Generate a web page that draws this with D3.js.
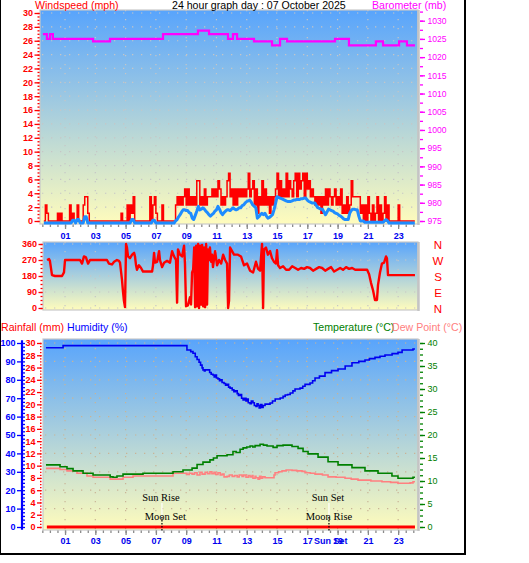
<!DOCTYPE html>
<html><head><meta charset="utf-8">
<script src="https://cdn.jsdelivr.net/npm/d3@7"></script>
<style>
html,body{margin:0;padding:0;background:#fff;}
svg{display:block;}
</style></head><body>
<svg id="chart" width="529" height="563"></svg>
<script>
// ---------------- DATA ----------------
const hourTicks = [1,3,5,7,9,11,13,15,17,19,21,23];
const hourLabels = ["01","03","05","07","09","11","13","15","17","19","21","23"];
const windTicks = [0,2,4,6,8,10,12,14,16,18,20,22,24,26,28,30];
const baroTicks = [975,980,985,990,995,1000,1005,1010,1015,1020,1025,1030];
const dirTicks = [0,90,180,270,360];
const dirLetters = ["N","E","S","W","N"];
const humTicks = [0,10,20,30,40,50,60,70,80,90,100];
const rainTicks = [0,2,4,6,8,10,12,14,16,18,20,22,24,26,28,30];
const tempTicks = [0,5,10,15,20,25,30,35,40];

// wind samples: first sample hour and sampling step (hours)
const windStartHour = -0.4;
const windStepHour = 0.1;
const windGust = [
0,2.3,1.1,0,0,0,0,0,0,1.1,
0,1.1,0,0,0,0,0,2.3,0,1.1,
0,0,2.3,0,0,0,2.3,3.5,3.5,1.1,
0,0,0,0,0,0,0,0,0,0,
0,0,0,0,0,0,0,0,0,0,
0,1.1,0,0,0,2.3,0,2.3,1.1,3.5,
0,0,0,0,0,0,0,0,0,0,
3.5,0,2.3,3.5,1.1,0,0,0,2.3,0,
0,0,0,0,0,0,0,2.3,3.5,2.3,
3.5,2.3,3.5,4.6,2.3,4.6,2.3,3.5,2.3,3.5,
2.3,5.8,5.8,2.3,3.5,2.3,4.6,2.3,3.5,3.5,
3.5,4.6,3.5,4.6,3.5,5.8,4.6,2.3,3.5,2.3,
3.5,5.8,6.9,3.5,4.6,2.3,4.6,2.3,4.6,3.5,
4.6,3.5,4.6,3.5,4.6,6.9,3.5,4.6,5.8,2.3,
4.6,1.1,3.5,2.3,5.8,2.3,4.6,2.3,3.5,1.1,
3.5,2.3,3.5,4.6,6.9,3.5,5.8,3.5,4.6,3.5,
6.9,3.5,5.8,4.6,3.5,5.8,6.9,3.5,6.9,4.6,
5.8,6.9,3.5,6.9,4.6,5.8,3.5,4.6,3.5,2.3,
3.5,2.3,3.5,1.1,3.5,2.3,4.6,2.3,4.6,3.5,
2.3,3.5,4.6,2.3,3.5,2.3,4.6,1.1,2.3,1.1,
3.5,1.1,2.3,5.8,3.5,3.5,3.5,3.5,3.5,1.1,
2.3,0,2.3,0,3.5,1.1,0,2.3,0,1.1,
3.5,0,2.3,0,1.1,3.5,0,2.3,0,0,
0,0,0,0,2.3,0,0,0,0,0,
0,0,0,0,0,0];
const windAvg = [
0,0,0,0,0,0,0,0,0,0,
0,0,0,0,0,0,0,0,0,0.4,
0.4,0,0.5,0.5,0,0,0,0.9,0.9,0,
0,0,0,0,0,0,0,0,0,0,
0,0,0,0,0,0,0,0,0,0,
0,0,0,0,0,0,0,0,0.5,0.5,
0,0,0,0,0,0,0,0,0,0,
0,0,0.4,0.4,0,0,0,0,0,0,
0,0,0,0,0,0,0,0.3,0.5,0.9,
1.2,1.6,1.9,1.9,1.8,1.8,1.5,1.4,0.7,0.5,
1.1,1.7,2.4,1.9,2.0,2.2,2.0,1.7,1.5,1.2,
1.0,1.2,1.4,1.7,1.9,2.4,2.0,1.5,1.2,1.5,
1.7,1.9,1.9,1.8,2.0,2.2,2.0,1.9,2.0,2.2,
2.2,2.5,2.6,2.9,3.1,3.2,3.3,3.0,2.6,2.4,
2.2,0.7,0.9,1.2,1.4,1.2,1.4,1.0,0.7,0.8,
1.0,1.2,1.9,2.8,3.8,3.7,3.6,3.5,3.4,3.3,
3.2,3.1,3.1,3.1,3.2,3.3,3.3,3.4,3.4,3.4,
3.5,3.5,3.6,3.6,3.3,3.1,3.0,2.9,2.9,2.9,
2.5,2.2,2.1,2.0,2.0,1.6,1.2,1.6,2.0,1.9,
1.8,1.7,1.5,1.4,1.3,1.1,1.0,0.8,0.6,0.5,
0.5,0.5,1.4,1.8,2.0,2.0,1.9,1.9,1.0,0.3,
0.3,0.3,0.1,0.1,0.1,0.1,0.1,0.1,0.1,0.1,
0.1,0.1,0.1,0.1,0.1,0.3,0.5,0.3,0,0,
0,0,0,0,0,0,0,0,0,0,
0,0,0,0,0,0];

// [hour, mb]
const barometer = [[-0.46,1026.3],[-0.2,1025.0],[0.01,1026.3],[0.2,1025.0],[2.85,1024.3],[3.97,1025.0],[7.47,1026.3],[9.78,1027.3],[10.51,1026.3],[11.76,1025.0],[12.09,1026.3],[12.36,1025.0],[13.48,1024.3],[14.67,1023.2],[15.2,1025.0],[15.66,1024.3],[18.83,1025.0],[19.75,1023.2],[21.53,1024.3],[22.0,1023.2],[23.06,1024.3],[23.58,1023.2],[24.11,1023.2]];

// [hour, degrees]
const windDir = [[-0.19,270],[-0.06,275],[0.0,265],[0.14,185],[0.34,180],[0.8,180],[0.93,200],[1.0,270],[1.99,270],[2.12,250],[2.25,290],[2.38,285],[2.52,250],[2.65,270],[3.77,270],[3.9,250],[4.1,245],[4.24,260],[4.43,270],[4.56,265],[4.63,255],[4.76,160],[4.83,90],[4.89,40],[4.96,5],[5.03,360],[5.09,340],[5.16,290],[5.29,280],[5.43,300],[5.56,310],[5.62,290],[5.69,240],[5.75,215],[5.88,240],[6.02,225],[6.15,205],[6.75,205],[6.81,240],[6.88,310],[6.94,255],[7.08,260],[7.21,320],[7.27,270],[7.41,230],[7.54,255],[7.74,265],[7.93,255],[8.07,320],[8.2,290],[8.33,270],[8.4,30],[8.46,330],[8.59,300],[8.73,290],[8.86,350],[8.92,250],
[8.99,10],[9.12,15],[9.25,60],[9.32,20],[9.39,200],[9.46,215],[9.53,340],[9.59,5],[9.66,350],[9.72,10],[9.79,360],[9.85,0],[9.92,350],[9.99,20],[10.05,355],[10.12,10],[10.18,340],[10.25,5],[10.32,360],[10.38,20],[10.44,330],[10.51,270],[10.57,340],[10.64,260],[10.71,300],[10.77,230],[10.91,320],[11.04,240],[11.17,270],[11.31,250],[11.44,300],[11.57,270],[11.7,250],[11.77,0],[11.83,40],[11.9,340],[12.03,320],[12.16,300],[12.42,300],[12.62,290],[12.82,240],[13.02,250],[13.22,210],[13.42,200],[13.61,260],[13.75,220],[13.88,210],[14.01,360],[14.08,0],[14.14,330],[14.27,340],[14.4,300],[14.54,320],[14.67,280],[14.8,260],[14.93,250],[15.0,325],[15.07,240],
[15.2,225],[15.4,235],[15.6,215],[15.8,215],[16.0,235],[16.2,225],[16.39,215],[16.59,225],[16.79,220],[16.98,230],[17.18,225],[17.38,210],[17.58,220],[17.78,230],[17.98,225],[18.18,210],[18.37,220],[18.57,230],[18.77,205],[18.97,215],[19.17,225],[19.36,215],[19.56,230],[19.76,220],[19.96,225],[20.16,215],[20.36,215],[20.95,215],[21.08,190],[21.21,140],[21.34,100],[21.47,45],[21.6,45],[21.67,130],[21.8,200],[21.93,250],[22.07,255],[22.2,290],[22.26,280],[22.33,185],[24.11,185]];

// [hour, %]
const humidity = [[-0.26,97.4],[0.87,98.6],[8.79,98.6],[9.05,96.2],[9.3,95.3],[9.45,94.4],[9.6,92.5],[9.72,91],[9.85,89.5],[9.95,88],[10.05,86.5],[10.11,85.4],[10.2,84.8],[10.25,85.4],[10.44,85.4],[10.55,84],[10.65,83],[10.77,82.6],[10.85,81.5],[10.9,82.6],[11.0,81],[11.1,80.5],[11.2,79.5],[11.3,80],[11.37,78.5],[11.5,78],[11.6,77],[11.7,77.5],[11.8,76],[11.9,75.5],[12.04,74.5],[12.15,73.5],[12.25,74],[12.37,72.5],[12.45,71.5],[12.56,72],[12.66,70],[12.76,69],[12.85,70],[12.95,68.5],[13.02,69.5],[13.1,67.5],[13.22,67],[13.3,68.5],[13.41,67.5],[13.5,66],[13.61,65.5],[13.68,67],[13.75,66],[13.82,64.7],[13.9,66.5],[14.0,65],[14.08,66],[14.21,66.8],[14.4,66.8],[14.54,67.4],[14.7,68.5],[14.88,69.6],[15.05,69.6],[15.21,70.1],[15.4,71],[15.54,71.7],[15.7,72],[15.87,72.8],[16.05,74],[16.19,75],[16.35,75],[16.52,75.5],[16.7,76.5],[16.85,77.5],[17.0,77.5],[17.18,78.3],[17.35,79.5],[17.51,81],[17.8,82],[18.17,83.9],[18.6,85],[19.03,85.9],[19.5,87.5],[19.95,89.3],[20.4,90],[20.81,90.8],[21.1,91.5],[21.47,92.2],[21.8,92.8],[22.13,93.5],[22.6,94.2],[22.99,94.9],[23.26,96.2],[23.98,96.7],[24.11,96.7]];

// [hour, °C]
const temperature = [[-0.26,13.5],[0.67,13.1],[1.13,12.7],[1.53,12.2],[2.19,11.7],[2.85,11.3],[3.98,10.9],[4.17,10.8],[4.43,11.1],[4.83,11.5],[6.15,11.7],[8.13,12.0],[8.79,12.4],[9.39,12.8],[9.72,13.6],[10.11,14.1],[10.57,14.6],[10.8,15.0],[11.04,15.5],[11.7,15.7],[12.09,16.4],[12.3,16.2],[12.56,16.9],[12.76,17.2],[13.0,17.4],[13.22,17.6],[13.4,17.4],[13.55,17.7],[13.88,18.0],[14.1,17.8],[14.34,17.6],[14.74,17.3],[15.0,17.7],[15.4,17.8],[15.99,17.5],[16.39,17.1],[16.72,16.4],[17.05,15.9],[17.71,15.2],[18.37,14.2],[19.03,13.5],[19.95,12.9],[20.81,12.2],[21.67,11.7],[22.59,11.1],[22.99,10.6],[23.98,10.8],[24.11,10.8]];

const dewPoint = [[-0.26,12.75],[0.67,12.5],[1.13,12.2],[1.79,11.7],[2.45,11.1],[2.85,10.8],[3.98,10.4],[4.83,10.8],[5.49,11.1],[7.74,11.1],[8.13,11.7],[8.79,11.7],[9.05,11.4],[9.2,11.7],[9.39,11.5],[9.55,11.8],[9.72,11.3],[9.91,11.9],[10.05,11.5],[10.25,11.9],[10.4,11.6],[10.57,12.0],[10.7,11.6],[10.84,11.9],[10.95,11.4],[11.1,11.8],[11.25,11.3],[11.37,11.5],[11.5,10.9],[11.7,11.0],[11.85,11.3],[12.04,11.0],[12.2,11.2],[12.37,10.9],[12.5,11.3],[12.69,11.0],[12.8,11.3],[12.95,10.8],[13.1,11.2],[13.22,10.9],[13.35,11.2],[13.41,10.6],[13.55,11.0],[13.61,10.7],[13.75,10.4],[13.85,11.0],[13.94,10.6],[14.05,10.9],[14.21,10.7],[14.67,10.7],[14.8,11.3],[14.87,11.8],[15.1,12.0],[15.33,12.2],[15.6,12.4],[15.99,12.3],[16.3,12.2],[16.65,12.1],[16.85,11.8],[17.2,11.7],[17.51,11.5],[18.0,11.3],[18.37,10.9],[18.9,10.8],[19.49,10.6],[19.9,10.4],[20.35,10.2],[21.2,10.0],[21.93,9.85],[22.5,9.7],[22.99,9.5],[23.79,9.6],[23.98,9.85],[24.11,9.85]];

// [hour, mm]
const rainfall = [[-0.2,0],[24.11,0]];

const sunEvents = [{name:"Sun Rise", hour:7.40},{name:"Sun Set", hour:18.43}];
const moonEvents = [{name:"Moon Set", hour:7.62},{name:"Moon Rise", hour:18.43}];

// ---------------- DRAWING ----------------
const FONT = "'Liberation Sans', Arial, sans-serif";
const svg = d3.select("#chart");
const defs = svg.append("defs");
const grad = defs.append("linearGradient").attr("id","bg").attr("x1",0).attr("y1",0).attr("x2",0).attr("y2",1);
grad.append("stop").attr("offset","0%").attr("stop-color","#58a4fc");
grad.append("stop").attr("offset","100%").attr("stop-color","#fffcbc");

const P1 = {x0:40, x1:418, y0:10, y1:224};
const P2 = {x0:43, x1:418, y0:242, y1:310};
const P3 = {x0:43, x1:418, y0:339, y1:530};

const x = d3.scaleLinear().domain([0,24]).range([49.9,413.3]);
const yWind = d3.scaleLinear().domain([0,30]).range([221,13]);
const yBaro = d3.scaleLinear().domain([975,1030]).range([221,20.7]);
const yDir = d3.scaleLinear().domain([0,360]).range([308,244]);
const yHum = d3.scaleLinear().domain([0,100]).range([527,343]);
const yRain = d3.scaleLinear().domain([0,30]).range([527,343]);
const yTemp = d3.scaleLinear().domain([0,40]).range([527,343]);

function panel(p){
  svg.append("rect").attr("x",p.x0).attr("y",p.y0).attr("width",p.x1-p.x0).attr("height",p.y1-p.y0)
    .attr("fill","url(#bg)").attr("stroke","#c8c8c8").attr("stroke-width",1.2);
  svg.append("line").attr("x1",p.x1+0.5).attr("x2",p.x1+0.5).attr("y1",p.y0).attr("y2",p.y1+1)
    .attr("stroke","#c4c4c4").attr("stroke-width",2.5);
}
function grid(p, yScale, yTicks, color){
  const g = svg.append("g").attr("stroke",color).attr("stroke-width",1.2).attr("stroke-dasharray","1.3,7.7");
  g.selectAll(".v").data(hourTicks).join("line").attr("class","v")
    .attr("x1",d=>x(d)).attr("x2",d=>x(d)).attr("y1",p.y0).attr("y2",p.y1);
  g.selectAll(".h").data(yTicks).join("line").attr("class","h")
    .attr("x1",p.x0+2).attr("x2",p.x1).attr("y1",d=>yScale(d)).attr("y2",d=>yScale(d));
}
function styleAxis(g, color, size, weight){
  g.attr("font-family",FONT).attr("font-size",size);
  g.select(".domain").remove();
  g.selectAll(".tick line").attr("stroke",color).attr("stroke-width",1.3);
  g.selectAll(".tick text").attr("fill",color).attr("font-weight",weight);
  return g;
}
const fmt = d3.format("d");

panel(P1); panel(P2); panel(P3);
grid(P1, yWind, windTicks.filter(d=>d>0), "#c6c6c6");
grid(P2, yDir, dirTicks, "#c6c6c6");
grid(P3, yHum, humTicks.filter(d=>d>0), "#c9b496");

// ---- top panel axes ----
styleAxis(svg.append("g").attr("transform","translate(39.5,0)")
  .call(d3.axisLeft(yWind).tickValues(d3.range(0,30.01,0.5)).tickSize(2).tickFormat("")), "#ff0000", 9, "bold");
styleAxis(svg.append("g").attr("transform","translate(39.5,0)")
  .call(d3.axisLeft(yWind).tickValues(windTicks).tickSize(5).tickPadding(1.5).tickFormat(fmt)), "#ff0000", 9, "bold");
styleAxis(svg.append("g").attr("transform","translate(420,0)")
  .call(d3.axisRight(yBaro).tickValues(d3.range(975,1032.6,2.5)).tickSize(3).tickFormat("")), "#ff00ff", 9, "normal");
styleAxis(svg.append("g").attr("transform","translate(420,0)")
  .call(d3.axisRight(yBaro).tickValues(baroTicks).tickSize(5).tickPadding(2.5).tickFormat(fmt)), "#ff00ff", 8.6, "normal");

function xAxis(yPos, pad){
  styleAxis(svg.append("g").attr("transform",`translate(0,${yPos})`)
    .call(d3.axisBottom(x).tickValues(d3.range(-0.5,24.01,0.5)).tickSize(2.5).tickFormat("")), "#8a8a8a", 9, "bold");
  styleAxis(svg.append("g").attr("transform",`translate(0,${yPos})`)
    .call(d3.axisBottom(x).tickValues(hourTicks).tickSize(4.5).tickPadding(pad).tickFormat((d,i)=>hourLabels[i])), "#8a8a8a", 9, "bold")
    .selectAll(".tick text").attr("fill","#0000ee");
}
xAxis(P1.y1+0.5, 3.5);
xAxis(P3.y1+0.5, 2.8);

// ---- middle panel axes ----
styleAxis(svg.append("g").attr("transform","translate(42.5,0)")
  .call(d3.axisLeft(yDir).tickValues(d3.range(0,360.1,22.5)).tickSize(2).tickFormat("")), "#ff0000", 9, "bold");
styleAxis(svg.append("g").attr("transform","translate(42.5,0)")
  .call(d3.axisLeft(yDir).tickValues(dirTicks).tickSize(4).tickPadding(1.5).tickFormat(fmt)), "#ff0000", 9, "bold");
svg.append("g").attr("font-family",FONT).attr("font-size",11.5).attr("fill","#ff0000").attr("text-anchor","middle")
  .selectAll("text").data(dirTicks).join("text")
  .attr("x",438).attr("y",d=>yDir(d)+5).text((d,i)=>dirLetters[i]);

// ---- bottom panel axes ----
svg.append("line").attr("x1",22).attr("x2",22).attr("y1",yHum(101.5)).attr("y2",yHum(-1.5))
  .attr("stroke","#0000ff").attr("stroke-width",2.2);
styleAxis(svg.append("g").attr("transform","translate(22,0)")
  .call(d3.axisRight(yHum).tickValues(d3.range(0,100.1,2)).tickSize(3).tickFormat("")), "#0000ff", 9, "bold");
styleAxis(svg.append("g").attr("transform","translate(21,0)")
  .call(d3.axisLeft(yHum).tickValues(humTicks).tickSize(4).tickPadding(1.5).tickFormat(fmt)), "#0000ff", 9, "bold");
styleAxis(svg.append("g").attr("transform","translate(41.5,0)")
  .call(d3.axisLeft(yRain).tickValues(d3.range(0,30.01,0.5)).tickSize(1.5).tickFormat("")), "#ff0000", 9, "bold");
styleAxis(svg.append("g").attr("transform","translate(41.5,0)")
  .call(d3.axisLeft(yRain).tickValues(rainTicks).tickSize(4.5).tickPadding(1.5).tickFormat(fmt)), "#ff0000", 9, "bold");
styleAxis(svg.append("g").attr("transform","translate(420,0)")
  .call(d3.axisRight(yTemp).tickValues(d3.range(0,40.1,1.25)).tickSize(3).tickFormat("")), "#008000", 9, "normal");
styleAxis(svg.append("g").attr("transform","translate(420,0)")
  .call(d3.axisRight(yTemp).tickValues(tempTicks).tickSize(5).tickPadding(2.5).tickFormat(fmt)), "#008000", 9, "normal");

// ---- series ----
const windHour = (d,i)=>windStartHour + i*windStepHour;
svg.append("path").datum(barometer)
  .attr("d", d3.line().x(d=>x(d[0])).y(d=>yBaro(d[1])).curve(d3.curveStepAfter))
  .attr("fill","none").attr("stroke","#ff00ff").attr("stroke-width",2.2);
svg.append("path").datum(windGust)
  .attr("d", d3.line().x((d,i)=>x(windHour(d,i))).y(d=>yWind(d)).curve(d3.curveStepAfter))
  .attr("fill","none").attr("stroke","#ff0000").attr("stroke-width",1.5);
svg.append("path").datum(windAvg).attr("transform","translate(0,2)")
  .attr("d", d3.line().x((d,i)=>x(windHour(d,i))).y(d=>yWind(d)))
  .attr("fill","none").attr("stroke","#1e8cff").attr("stroke-width",3).attr("stroke-linejoin","round");

svg.append("path").datum(windDir)
  .attr("d", d3.line().x(d=>x(d[0])).y(d=>yDir(d[1])))
  .attr("fill","none").attr("stroke","#ff0000").attr("stroke-width",2.4).attr("stroke-linejoin","round");

svg.append("path").datum(humidity)
  .attr("d", d3.line().x(d=>x(d[0])).y(d=>yHum(d[1])).curve(d3.curveStepAfter))
  .attr("fill","none").attr("stroke","#0000f0").attr("stroke-width",1.6);
svg.append("path").datum(dewPoint)
  .attr("d", d3.line().x(d=>x(d[0])).y(d=>yTemp(d[1])).curve(d3.curveStepAfter))
  .attr("fill","none").attr("stroke","#ff8080").attr("stroke-width",1.6);
svg.append("path").datum(temperature)
  .attr("d", d3.line().x(d=>x(d[0])).y(d=>yTemp(d[1])).curve(d3.curveStepAfter))
  .attr("fill","none").attr("stroke","#008000").attr("stroke-width",1.6);
svg.append("path").datum(rainfall)
  .attr("d", d3.line().x(d=>x(d[0])).y(d=>yRain(d[1])))
  .attr("fill","none").attr("stroke","#ff0000").attr("stroke-width",3);

// ---- sun / moon ----
const ev = svg.append("g").attr("font-family","'Liberation Serif','Times New Roman',serif").attr("font-size",10.5).attr("text-anchor","middle");
sunEvents.forEach(e=>{
  ev.append("line").attr("x1",x(e.hour)).attr("x2",x(e.hour)).attr("y1",503).attr("y2",517).attr("stroke","#ffffff").attr("stroke-width",1.2);
  ev.append("line").attr("x1",x(e.hour)).attr("x2",x(e.hour)).attr("y1",517).attr("y2",531).attr("stroke","#000").attr("stroke-width",1.2).attr("stroke-dasharray","1.5,1.5");
  ev.append("text").attr("x",x(e.hour)-1).attr("y",501).attr("fill","#000").text(e.name);
});
moonEvents.forEach(e=>{
  ev.append("text").attr("x",x(e.hour)).attr("y",520).attr("fill","#000").text(e.name);
});
svg.append("text").attr("x",314).attr("y",543.5).attr("font-family",FONT).attr("font-size",9).attr("font-weight","bold")
  .attr("fill","#0000ee").text("Sun Set");

// ---- titles ----
const t = svg.append("g").attr("font-family",FONT).attr("font-size",10.6);
t.append("text").attr("x",35).attr("y",9).attr("fill","#ff0000").text("Windspeed (mph)");
t.append("text").attr("x",172).attr("y",9).attr("fill","#000").text("24 hour graph day : 07 October 2025");
t.append("text").attr("x",372).attr("y",9).attr("fill","#ff00ff").text("Barometer (mb)");
t.append("text").attr("x",1).attr("y",330.5).attr("fill","#ff0000").text("Rainfall (mm)");
t.append("text").attr("x",67).attr("y",330.5).attr("fill","#0000ff").text("Humidity (%)");
t.append("text").attr("x",313).attr("y",330.5).attr("fill","#008000").text("Temperature (°C)");
t.append("text").attr("x",392).attr("y",330.5).attr("fill","#ff8080").text("Dew Point (°C)");

// ---- frame ----
svg.append("line").attr("x1",0.5).attr("x2",0.5).attr("y1",0).attr("y2",555).attr("stroke","#000").attr("stroke-width",1);
svg.append("line").attr("x1",465).attr("x2",465).attr("y1",0).attr("y2",555).attr("stroke","#000").attr("stroke-width",2);
svg.append("line").attr("x1",0).attr("x2",466).attr("y1",554).attr("y2",554).attr("stroke","#000").attr("stroke-width",2);
</script></body></html>
